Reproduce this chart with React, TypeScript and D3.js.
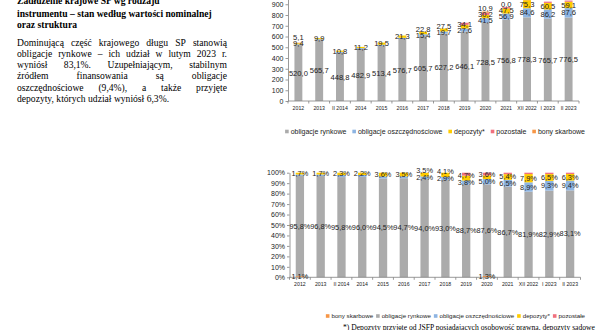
import React, { useEffect, useRef } from 'react';
import * as d3 from 'd3';

const categories = ['2012', '2013', 'II 2014', '2014', '2015', '2016', '2017', '2018', '2019', '2020', '2021', 'XII 2022', 'I 2023', 'II 2023'];

// stan wg wartości nominalnej, mld zł
const rynkowe = [520.0, 565.7, 448.8, 482.9, 513.4, 576.7, 605.7, 627.2, 646.1, 728.5, 756.8, 778.3, 765.7, 776.5];
const oszczednosciowe = [7.6, 8.8, 8.9, 9.1, 10.3, 11.0, 15.4, 19.7, 27.6, 41.5, 56.9, 84.6, 86.2, 87.6];
const depozyty = [9.4, 9.9, 10.8, 11.2, 19.5, 21.3, 22.8, 27.5, 34.1, 30.2, 47.5, 75.3, 60.5, 59.1];
const pozostale = [0, 0, 0, 0, 0, 0, 0.6, 0, 20.4, 20.8, 12.2, 12.4, 12.0, 11.2];
const bony: (number | null)[] = [5.1, null, null, null, null, null, null, null, null, 10.9, 0.0, null, null, null];

// struktura, %
const bonyPct = [1.1, 0, 0, 0, 0, 0, 0, 0, 0, 1.3, 0, 0, 0, 0];
const rynkowePct = [95.8, 96.8, 95.8, 96.0, 94.5, 94.7, 94.0, 93.0, 88.7, 87.6, 86.7, 81.9, 82.9, 83.1];
const oszczednosciowePct = [1.4, 1.5, 1.9, 1.8, 1.9, 1.8, 2.4, 2.9, 3.8, 5.0, 6.5, 8.9, 9.3, 9.4];
const depozytyPct = [1.7, 1.7, 2.3, 2.2, 3.6, 3.5, 3.5, 4.1, 4.7, 3.6, 5.4, 7.9, 6.5, 6.3];
const pozostalePct = [0, 0, 0, 0, 0, 0, 0.1, 0, 2.8, 2.5, 1.4, 1.3, 1.3, 1.2];

const valueTicks = [0, 100, 200, 300, 400, 500, 600, 700, 800, 900, 1000];
const pctTicks = [0, 0.1, 0.2, 0.3, 0.4, 0.5, 0.6, 0.7, 0.8, 0.9, 1];

const names: Record<string, string> = {
  rynkowe: 'obligacje rynkowe',
  osz: 'obligacje oszczędnościowe',
  dep: 'depozyty*',
  poz: 'pozostałe',
  bony: 'bony skarbowe',
};
const colors: Record<string, string> = {
  rynkowe: '#ABABAB',
  osz: '#8DB4E2',
  dep: '#FFCC00',
  poz: '#F0707E',
  bony: '#F79646',
};

const titleLines = ['Zadłużenie krajowe SP wg rodzaju', 'instrumentu – stan według wartości nominalnej', 'oraz struktura'];
const paraLines = [
  'Dominującą część krajowego długu SP stanowią',
  'obligacje rynkowe – ich udział w lutym 2023 r.',
  'wyniósł 83,1%. Uzupełniającym, stabilnym',
  'źródłem finansowania są obligacje',
  'oszczędnościowe (9,4%), a także przyjęte',
  'depozyty, których udział wyniósł 6,3%.',
];
const footnote = '*) Depozyty przyjęte od JSFP posiadających osobowość prawną, depozyty sądowe';

const sans = 'Arial, "Liberation Sans", sans-serif';
const serif = '"Times New Roman", "Liberation Serif", serif';
const comma = (v: number) => v.toFixed(1).replace('.', ',');

export default function App() {
  const svgRef = useRef<SVGSVGElement>(null);

  useEffect(() => {
    if (!svgRef.current) return;
    const svg = d3.select(svgRef.current);
    svg.selectAll('*').remove();

    // tekst po lewej
    const txt = svg.append('g').attr('font-family', serif).attr('fill', '#000');
    [4, 17.3, 27.7].forEach((y, i) => {
      txt.append('text').attr('x', 17).attr('y', y)
        .attr('font-size', 9.6).attr('font-weight', 'bold').text(titleLines[i]);
    });
    paraLines.forEach((l, i) => {
      const y = 45.5 + i * 11.3;
      if (i === paraLines.length - 1) {
        txt.append('text').attr('x', 17).attr('y', y).attr('font-size', 9.6).text(l);
        return;
      }
      // justowanie: rozkład odstępów między słowami
      const words = l.split(' ');
      const nodes = words.map(w => txt.append('text').attr('y', y).attr('font-size', 9.6).text(w));
      const widths = nodes.map(n => (n.node() as SVGTextElement).getComputedTextLength());
      const gap = (210 - d3.sum(widths)) / (words.length - 1);
      let x = 17;
      nodes.forEach((n, j) => { n.attr('x', x); x += widths[j] + gap; });
    });

    const drawLegend = (keys: string[], yc: number, right: number, fs: number, sep: number) => {
      const lg = svg.append('g').attr('font-family', sans).attr('font-size', fs).attr('fill', '#222');
      const items = keys.map(k => {
        const t = lg.append('text').attr('y', yc).attr('dy', '0.35em').text(names[k]);
        const r = lg.append('rect').attr('y', yc - 1.8).attr('width', 3.6).attr('height', 3.6).attr('fill', colors[k]);
        return { t, r, w: (t.node() as SVGTextElement).getComputedTextLength() };
      });
      const total = d3.sum(items, d => d.w + 5.6) + (items.length - 1) * sep;
      let x = right - total;
      items.forEach(d => {
        d.r.attr('x', x);
        d.t.attr('x', x + 5.6);
        x += d.w + 5.6 + sep;
      });
    };

    const drawLabels = (
      g: d3.Selection<SVGGElement, unknown, null, undefined>,
      series: d3.Series<any, string>[],
      xs: d3.ScaleBand<string>,
      ys: d3.ScaleLinear<number, number>,
      fixed: string[],
      show: (key: string, i: number) => boolean,
      text: (key: string, i: number) => string,
      gap: number,
    ) => {
      categories.forEach((c, i) => {
        let prev = Infinity;
        series.forEach(s => {
          if (!show(s.key, i)) return;
          const d = s[i];
          let cy = (ys(d[0]) + ys(d[1])) / 2;
          if (!fixed.includes(s.key)) {
            cy = Math.min(cy, prev - gap);
            prev = cy;
          }
          g.append('text')
            .attr('x', xs(c)! + xs.bandwidth() / 2)
            .attr('y', cy)
            .attr('dy', '0.35em')
            .attr('text-anchor', 'middle')
            .text(text(s.key, i));
        });
      });
    };

    const drawXAxis = (xs: d3.ScaleBand<string>, y0: number) => {
      const ax = svg.append('g');
      const [a, b] = xs.range();
      ax.append('line').attr('x1', a).attr('x2', b).attr('y1', y0).attr('y2', y0).attr('stroke', '#808080').attr('stroke-width', 0.8);
      d3.range(categories.length + 1).forEach(i => {
        const x = a + i * xs.step();
        ax.append('line').attr('x1', x).attr('x2', x).attr('y1', y0).attr('y2', y0 + 2.5).attr('stroke', '#808080').attr('stroke-width', 0.8);
      });
      ax.selectAll('text.cat').data(categories).enter().append('text')
        .attr('x', d => xs(d)! + xs.bandwidth() / 2)
        .attr('y', y0 + 7)
        .attr('dy', '0.35em')
        .attr('text-anchor', 'middle')
        .attr('font-family', sans)
        .attr('font-size', 5.2)
        .attr('fill', '#222')
        .text(d => d);
    };

    const drawYAxis = (ys: d3.ScaleLinear<number, number>, x0: number, ticks: number[], fmt: (v: number) => string) => {
      const g = svg.append('g').attr('transform', `translate(${x0},0)`)
        .call(d3.axisLeft(ys).tickValues(ticks).tickSize(2.5).tickSizeOuter(0).tickPadding(2).tickFormat(d => fmt(+d)));
      g.select('.domain').attr('stroke', '#808080').attr('stroke-width', 0.8);
      g.selectAll('.tick line').attr('stroke', '#808080').attr('stroke-width', 0.8);
      g.selectAll('.tick text').attr('font-family', sans).attr('font-size', 7).attr('fill', '#222');
    };

    // wykres 1: stan, mld zł
    const topKeys = ['rynkowe', 'osz', 'dep', 'poz', 'bony'];
    const topRows = categories.map((c, i) => ({
      rynkowe: rynkowe[i], osz: oszczednosciowe[i], dep: depozyty[i], poz: pozostale[i], bony: bony[i] ?? 0,
    }));
    const topStack = d3.stack<any>().keys(topKeys)(topRows);
    const x1 = d3.scaleBand().domain(categories).range([288, 579]).paddingInner(0.62).paddingOuter(0.31);
    const y1 = d3.scaleLinear().domain([0, 1000]).range([101, -6.5]);

    const bars1 = svg.append('g');
    topStack.forEach(s => {
      bars1.selectAll(null).data(s).enter().append('rect')
        .attr('x', (d, i) => x1(categories[i])!)
        .attr('y', d => y1(d[1]))
        .attr('width', x1.bandwidth())
        .attr('height', d => y1(d[0]) - y1(d[1]))
        .attr('fill', colors[s.key]);
    });
    drawYAxis(y1, 288, valueTicks, v => String(v));
    drawXAxis(x1, 101);
    const lab1 = svg.append('g').attr('font-family', sans).attr('font-size', 7.6).attr('fill', '#222');
    const topVals: Record<string, (number | null)[]> = { rynkowe, osz: oszczednosciowe, dep: depozyty, poz: pozostale, bony };
    drawLabels(lab1, topStack, x1, y1, ['rynkowe'],
      (k, i) => k === 'rynkowe' || k === 'dep' || (k === 'osz' && oszczednosciowe[i] >= 12) || (k === 'bony' && bony[i] !== null),
      (k, i) => comma(topVals[k][i] as number), 6);
    drawLegend(topKeys, 131.5, 585, 7, 6);

    // wykres 2: struktura
    const botKeys = ['bony', 'rynkowe', 'osz', 'dep', 'poz'];
    const botRows = categories.map((c, i) => ({
      bony: bonyPct[i], rynkowe: rynkowePct[i], osz: oszczednosciowePct[i], dep: depozytyPct[i], poz: pozostalePct[i],
    }));
    const botStack = d3.stack<any>().keys(botKeys).offset(d3.stackOffsetExpand)(botRows);
    const x2 = d3.scaleBand().domain(categories).range([289.5, 580.5]).paddingInner(0.6).paddingOuter(0.3);
    const y2 = d3.scaleLinear().domain([0, 1]).range([277.3, 172.7]);

    const bars2 = svg.append('g');
    botStack.forEach(s => {
      bars2.selectAll(null).data(s).enter().append('rect')
        .attr('x', (d, i) => x2(categories[i])!)
        .attr('y', d => y2(d[1]))
        .attr('width', x2.bandwidth())
        .attr('height', d => y2(d[0]) - y2(d[1]))
        .attr('fill', colors[s.key]);
    });
    drawYAxis(y2, 289.5, pctTicks, d3.format('.0%'));
    drawXAxis(x2, 277.3);
    const lab2 = svg.append('g').attr('font-family', sans).attr('font-size', 7.4).attr('fill', '#222');
    const botVals: Record<string, number[]> = { bony: bonyPct, rynkowe: rynkowePct, osz: oszczednosciowePct, dep: depozytyPct, poz: pozostalePct };
    drawLabels(lab2, botStack, x2, y2, ['bony', 'rynkowe'],
      (k, i) => k === 'rynkowe' || k === 'dep' || (k === 'osz' && oszczednosciowePct[i] >= 2) || (k === 'bony' && bonyPct[i] > 0),
      (k, i) => comma(botVals[k][i]) + '%', 7);
    drawLegend(botKeys, 316, 585, 6.2, 3);

    svg.append('text').attr('x', 343).attr('y', 329.5)
      .attr('font-family', serif).attr('font-size', 7.6).attr('fill', '#000').text(footnote);
  }, []);

  return (
    <svg
      ref={svgRef}
      width={600}
      height={330}
      style={{ position: 'absolute', left: 0, top: 0, background: '#fff' }}
    />
  );
}
